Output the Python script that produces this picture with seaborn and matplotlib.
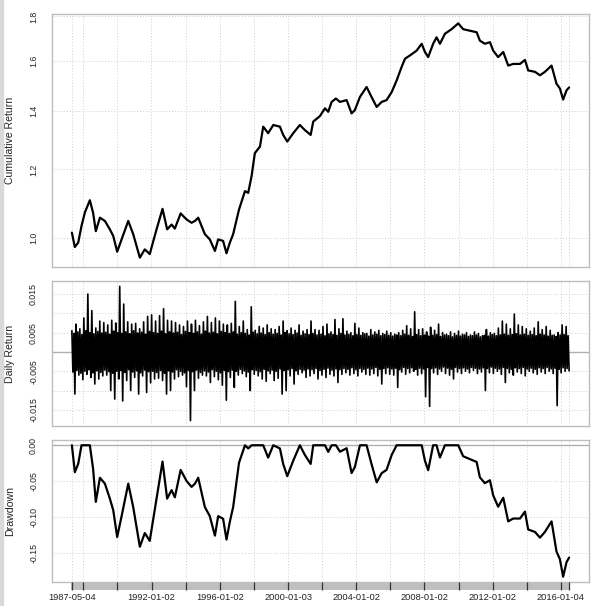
import numpy as np
import pandas as pd
import matplotlib
matplotlib.use("Agg")
import matplotlib.pyplot as plt
import matplotlib.dates as mdates
import seaborn as sns
from matplotlib.patches import Rectangle
from matplotlib.ticker import FixedLocator, FixedFormatter, NullLocator

sns.set_theme(style="white")
plt.rcParams['font.family'] = ['Liberation Sans', 'DejaVu Sans']
plt.rcParams['axes.unicode_minus'] = False

# ---------------- data ----------------
cum_years = [1987.337, 1987.51, 1987.71, 1987.90, 1988.10, 1988.39, 1988.58, 1988.74, 1988.98,
             1989.27, 1989.56, 1989.76, 1989.99, 1990.25, 1990.64, 1990.93, 1991.32, 1991.61,
             1991.90, 1992.30, 1992.65, 1992.92, 1993.18, 1993.37, 1993.71, 1994.06, 1994.35,
             1994.55, 1994.74, 1995.13, 1995.42, 1995.72, 1995.91, 1996.20, 1996.40, 1996.60,
             1996.79, 1997.13, 1997.48, 1997.67, 1997.87, 1998.06, 1998.36, 1998.55, 1998.84,
             1999.14, 1999.53, 1999.72, 1999.96, 2000.31, 2000.70, 2000.99, 2001.33, 2001.48,
             2001.87, 2002.17, 2002.36, 2002.56, 2002.81, 2003.05, 2003.44, 2003.73, 2003.92,
             2004.22, 2004.61, 2004.90, 2005.20, 2005.49, 2005.78, 2006.08, 2006.37, 2006.66,
             2006.86, 2007.15, 2007.54, 2007.84, 2008.03, 2008.22, 2008.51, 2008.71, 2008.91,
             2009.20, 2009.59, 2009.98, 2010.27, 2010.66, 2011.06, 2011.25, 2011.54, 2011.84,
             2012.03, 2012.32, 2012.62, 2012.91, 2013.20, 2013.60, 2013.89, 2014.08, 2014.48,
             2014.77, 2015.06, 2015.45, 2015.74, 2015.94, 2016.13, 2016.33, 2016.48]
cum_values = [1.015, 0.977, 0.989, 1.033, 1.071, 1.106, 1.070, 1.019, 1.056,
              1.047, 1.024, 1.006, 0.965, 0.997, 1.047, 1.011, 0.950, 0.971,
              0.959, 1.024, 1.081, 1.024, 1.037, 1.026, 1.068, 1.051, 1.042,
              1.047, 1.056, 1.011, 0.997, 0.967, 0.997, 0.993, 0.961, 0.989,
              1.011, 1.079, 1.133, 1.128, 1.180, 1.253, 1.275, 1.344, 1.321,
              1.350, 1.344, 1.315, 1.292, 1.321, 1.350, 1.332, 1.315, 1.362,
              1.382, 1.411, 1.398, 1.435, 1.448, 1.435, 1.442, 1.392, 1.404,
              1.454, 1.493, 1.454, 1.416, 1.435, 1.442, 1.473, 1.519, 1.574,
              1.609, 1.623, 1.644, 1.674, 1.638, 1.616, 1.674, 1.703, 1.674,
              1.719, 1.740, 1.767, 1.740, 1.733, 1.726, 1.688, 1.674, 1.681,
              1.644, 1.616, 1.638, 1.580, 1.587, 1.587, 1.604, 1.560, 1.554,
              1.540, 1.554, 1.580, 1.506, 1.487, 1.444, 1.480, 1.491]

# daily returns (units of 1e-4), per time slice: extreme high / extreme low,
# and the secondary high / low that form the dense core of the band
ret_hi = [55, 72, 60, 88, 150, 107, 62, 80, 76, 70,
          82, 75, 170, 124, 78, 72, 74, 60, 78, 92,
          96, 80, 94, 112, 82, 80, 76, 70, 66, 80,
          72, 82, 68, 78, 92, 76, 88, 80, 72, 70,
          74, 131, 66, 80, 58, 117, 56, 66, 62, 70,
          60, 58, 66, 80, 55, 62, 56, 70, 54, 58,
          80, 58, 56, 66, 72, 52, 84, 60, 86, 54,
          50, 74, 62, 50, 48, 58, 52, 56, 48, 54,
          50, 46, 50, 56, 68, 60, 104, 58, 60, 52,
          64, 56, 72, 50, 46, 52, 48, 54, 46, 50,
          44, 52, 48, 42, 58, 50, 48, 62, 80, 72,
          60, 98, 70, 66, 60, 54, 62, 78, 58, 66,
          56, 44, 50, 70, 66]
ret_lo = [-109, -60, -72, -58, -66, -83, -70, -62, -60, -100,
          -122, -70, -127, -74, -100, -66, -109, -62, -105, -80,
          -70, -68, -74, -109, -100, -70, -64, -60, -90, -178,
          -100, -68, -60, -62, -79, -64, -72, -86, -125, -66,
          -92, -60, -56, -64, -100, -58, -62, -70, -76, -56,
          -74, -68, -109, -100, -62, -83, -58, -54, -66, -62,
          -56, -70, -60, -66, -58, -62, -79, -58, -54, -60,
          -56, -62, -52, -58, -60, -56, -62, -83, -56, -58,
          -60, -92, -52, -58, -54, -50, -60, -56, -116, -141,
          -54, -58, -50, -56, -60, -70, -52, -56, -50, -54,
          -48, -56, -52, -100, -54, -56, -50, -58, -79, -54,
          -60, -52, -56, -62, -50, -54, -58, -52, -56, -50,
          -56, -139, -54, -50, -49]
ret_hi2 = [48, 52, 45, 55, 50, 47, 53, 49, 51, 46,
           54, 50, 48, 52, 47, 55, 49, 51, 46, 53,
           50, 48, 54, 47, 52, 49, 51, 45, 53, 50,
           48, 52, 46, 54, 49, 51, 47, 53, 50, 48,
           52, 46, 50, 48, 44, 51, 47, 49, 45, 50,
           46, 48, 44, 50, 47, 45, 49, 43, 47, 45,
           48, 44, 46, 42, 47, 45, 43, 48, 44, 46,
           42, 45, 43, 47, 41, 44, 46, 42, 45, 43,
           41, 44, 42, 46, 43, 40, 45, 42, 44, 41,
           43, 45, 40, 44, 42, 39, 43, 41, 44, 40,
           42, 44, 39, 43, 41, 45, 42, 44, 46, 43,
           45, 47, 44, 46, 43, 45, 42, 46, 44, 41,
           43, 40, 44, 45, 42]
ret_lo2 = [-52, -48, -55, -50, -46, -54, -49, -53, -47, -51,
           -55, -50, -48, -53, -46, -52, -49, -54, -47, -51,
           -50, -53, -48, -55, -49, -52, -46, -50, -54, -48,
           -51, -47, -53, -49, -52, -46, -50, -54, -48, -51,
           -47, -50, -45, -49, -52, -46, -48, -51, -45, -49,
           -47, -50, -44, -48, -46, -43, -49, -45, -47, -44,
           -46, -43, -48, -45, -42, -47, -44, -46, -43, -45,
           -41, -46, -43, -45, -42, -44, -40, -45, -43, -41,
           -44, -42, -46, -40, -43, -41, -45, -42, -44, -40,
           -43, -41, -44, -39, -42, -45, -40, -43, -41, -44,
           -40, -42, -44, -41, -43, -39, -42, -44, -40, -43,
           -45, -41, -43, -40, -44, -42, -45, -41, -43, -40,
           -44, -42, -45, -41, -43]

tick_dates = ["1987-05-04", "1988-01-04", "1990-01-02", "1992-01-02", "1994-01-03",
              "1996-01-02", "1998-01-02", "2000-01-03", "2002-01-02", "2004-01-02",
              "2006-01-03", "2008-01-02", "2010-01-04", "2012-01-02", "2014-01-02",
              "2016-01-04", "2016-06-24"]
tick_labels = ["1987-05-04", "", "", "1992-01-02", "", "1996-01-02", "", "2000-01-03", "",
               "2004-01-02", "", "2008-01-02", "", "2012-01-02", "", "2016-01-04", ""]

cum_ticks = [1.0, 1.2, 1.4, 1.6, 1.8]
cum_tick_labels = ["1.0", "1.2", "1.4", "1.6", "1.8"]
ret_ticks = [-0.015, -0.01, -0.005, 0.0, 0.005, 0.01, 0.015]
ret_tick_labels = ["-0.015", "", "-0.005", "", "0.005", "", "0.015"]
dd_ticks = [-0.15, -0.10, -0.05, 0.0]
dd_tick_labels = ["-0.15", "-0.10", "-0.05", "0.00"]

# ---------------- derived series ----------------
def year_to_date(y):
    yi = int(y)
    return pd.Timestamp(yi, 1, 1) + pd.Timedelta(days=(y - yi) * 365.25)

cum_dates = pd.to_datetime([year_to_date(y) for y in cum_years])
cum = np.array(cum_values)
peak = np.maximum.accumulate(np.concatenate([[1.0], cum]))[1:]
drawdown = cum / peak - 1

n = len(ret_hi)
ret_dates = pd.date_range(cum_dates[0], cum_dates[-1], periods=4 * n)
ret_vals = np.empty(4 * n)
ret_vals[0::4] = np.array(ret_hi) / 1e4
ret_vals[1::4] = np.array(ret_lo2) / 1e4
ret_vals[2::4] = np.array(ret_hi2) / 1e4
ret_vals[3::4] = np.array(ret_lo) / 1e4

df_cum = pd.DataFrame({"date": cum_dates, "value": cum, "dd": drawdown})
df_ret = pd.DataFrame({"date": ret_dates, "value": ret_vals})

# ---------------- figure ----------------
W, H = 603, 606
fig = plt.figure(figsize=(W / 100, H / 100), dpi=100)
fig.patches.append(Rectangle((0, 0), 3 / W, 1, transform=fig.transFigure,
                             color="#d9d9d9", zorder=0))

def rect(l, t, r, b):
    return [l / W, 1 - b / H, (r - l) / W, (b - t) / H]

ax1 = fig.add_axes(rect(52, 14, 589, 267))
ax2 = fig.add_axes(rect(52, 281, 589, 426), sharex=ax1)
ax3 = fig.add_axes(rect(52, 440, 589, 582), sharex=ax1)
axb = fig.add_axes(rect(71, 582, 570, 590))

GRID = dict(color="#cfcfcf", linestyle=(0, (1, 2)), linewidth=0.7)
SPINE = "#bdbdbd"
tdates = pd.to_datetime(tick_dates)
tnum = mdates.date2num(tdates)

sns.lineplot(data=df_cum, x="date", y="value", ax=ax1, color="black",
             linewidth=1.6, estimator=None, sort=False)
sns.lineplot(data=df_ret, x="date", y="value", ax=ax2, color="black",
             linewidth=1.2, estimator=None, sort=False)
sns.lineplot(data=df_cum, x="date", y="dd", ax=ax3, color="black",
             linewidth=1.6, estimator=None, sort=False)

ax2.axhline(0, color="#b0b0b0", linewidth=1.0, zorder=1)
ax3.axhline(0, color="#b0b0b0", linewidth=1.0, zorder=1)

# x range with 4% padding
x0, x1 = mdates.date2num(cum_dates[0]), mdates.date2num(cum_dates[-1])
pad = 0.04 * (x1 - x0)
ax1.set_xlim(x0 - pad, x1 + pad)

# y ranges with 4% padding
lmin, lmax = np.log(cum.min()), np.log(cum.max())
lp = 0.04 * (lmax - lmin)
ax1.set_yscale("log")
ax1.set_ylim(np.exp(lmin - lp), np.exp(lmax + lp))
rp = 0.04 * (ret_vals.max() - ret_vals.min())
ax2.set_ylim(ret_vals.min() - rp, ret_vals.max() + rp)
dmin, dmax = drawdown.min(), 0.0
dp = 0.04 * (dmax - dmin)
ax3.set_ylim(dmin - dp, dmax + dp)

for ax, ticks, labels, name in [(ax1, cum_ticks, cum_tick_labels, "Cumulative Return"),
                                (ax2, ret_ticks, ret_tick_labels, "Daily Return"),
                                (ax3, dd_ticks, dd_tick_labels, "Drawdown")]:
    ax.yaxis.set_major_locator(FixedLocator(ticks))
    ax.yaxis.set_major_formatter(FixedFormatter(labels))
    ax.yaxis.set_minor_locator(NullLocator())
    ax.xaxis.set_major_locator(FixedLocator(tnum))
    ax.xaxis.set_minor_locator(NullLocator())
    ax.tick_params(axis="x", length=0, labelbottom=False)
    ax.tick_params(axis="y", length=0, pad=10, labelsize=6.3, labelcolor="#222222")
    for lab in ax.get_yticklabels():
        lab.set_rotation(90)
        lab.set_va("center")
    ax.grid(True, **GRID)
    ax.set_axisbelow(True)
    for s in ax.spines.values():
        s.set_color(SPINE)
        s.set_linewidth(1.0)
    ax.set_facecolor("white")
    ax.set_xlabel("")
    ax.set_ylabel(name, fontsize=7.6, color="#222222")
    ax.yaxis.set_label_coords(-0.068, 0.5)

# bottom grey date bar
axb.set_facecolor("#bfbfbf")
bpad = (x1 - x0) / 497.0
axb.set_xlim(x0 - bpad, x1 + bpad)
axb.set_ylim(0, 1)
for s in axb.spines.values():
    s.set_visible(False)
axb.set_yticks([])
axb.xaxis.set_major_locator(FixedLocator(tnum))
axb.xaxis.set_major_formatter(FixedFormatter(tick_labels))
axb.xaxis.set_minor_locator(NullLocator())
axb.tick_params(axis="x", bottom=True, direction="in", length=5.8, width=0.9,
                color="#333333", pad=2.5, labelsize=6.7, labelcolor="#222222")
axb.grid(False)

fig.savefig("out.png", dpi=100)
